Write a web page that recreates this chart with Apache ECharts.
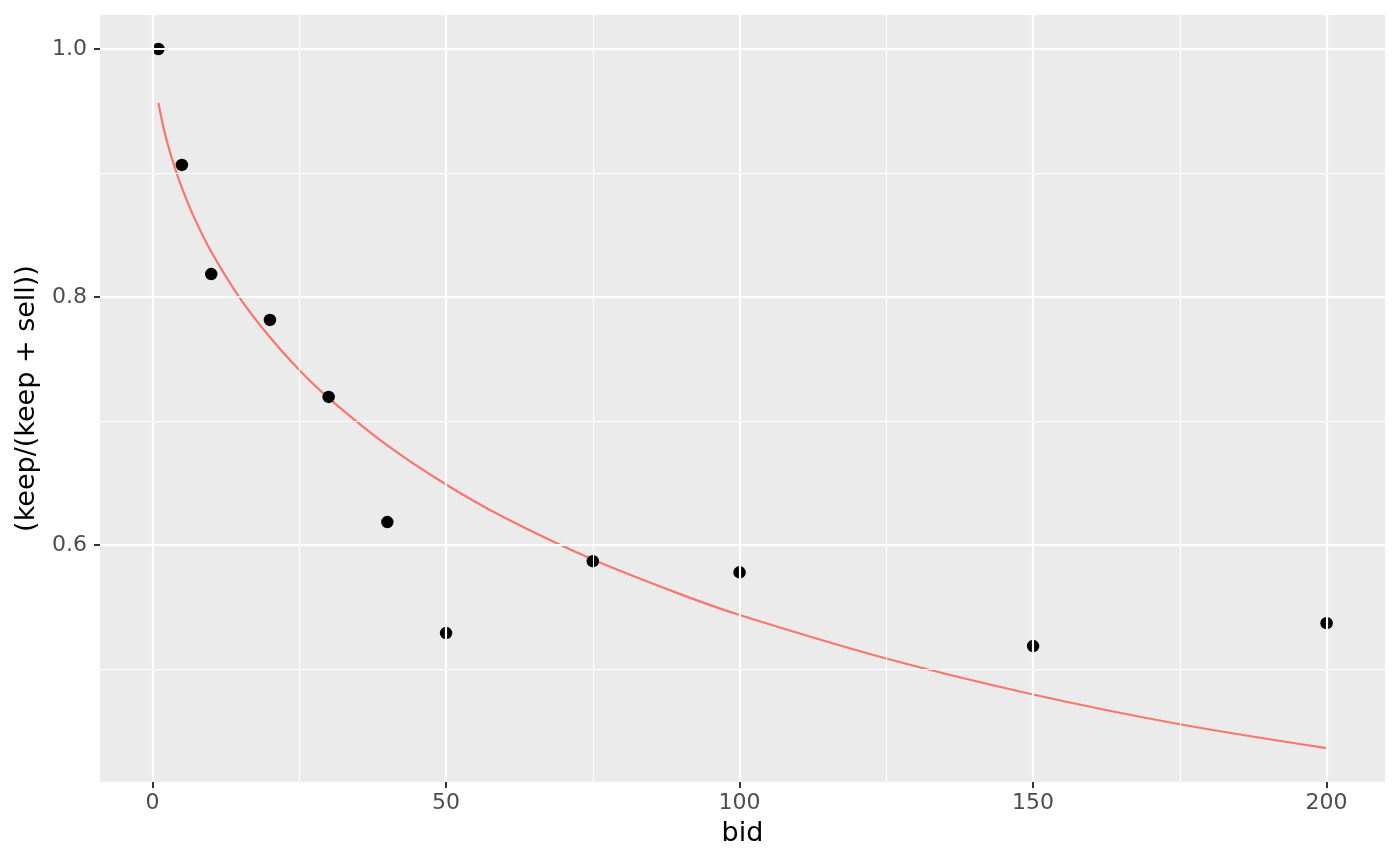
<!DOCTYPE html>
<html>
<head>
<meta charset="utf-8">
<script src="https://cdn.jsdelivr.net/npm/echarts@6/dist/echarts.min.js"></script>
<style>
html,body{margin:0;padding:0;background:#fff;}
#chart{width:1400px;height:866px;}
</style>
</head>
<body>
<div id="chart"></div>
<script>
// observed points
const bids = [1, 5, 10, 20, 30, 40, 50, 75, 100, 150, 200];
const shares = [1.0, 0.9065, 0.8185, 0.7815, 0.7194, 0.6185, 0.529, 0.587, 0.578, 0.5185, 0.537];
// fitted curve
const fitBids = [1, 2, 3, 4, 5, 7, 10, 15, 20, 25, 30, 40, 50, 60, 75, 90, 100, 125, 150, 175, 200];
const fitShares = [0.9565, 0.934, 0.9164, 0.9014, 0.888, 0.865, 0.8365, 0.7983, 0.7675, 0.7411, 0.7185, 0.6803, 0.6488, 0.622, 0.5883, 0.5602, 0.5436, 0.5085, 0.4795, 0.4555, 0.4362];
// axis ticks
const xMajor = [0, 50, 100, 150, 200];
const xMinor = [25, 75, 125, 175];
const yMajor = [0.6, 0.8, 1.0];
const yMinor = [0.5, 0.7, 0.9];
const xTitle = 'bid';
const yTitle = '(keep/(keep + sell))';

const chart = echarts.init(document.getElementById('chart'), null, {renderer: 'canvas'});
const font = 'DejaVu Sans';

const gridLines = [];
xMinor.forEach(v => gridLines.push({xAxis: v, lineStyle: {color: '#fff', width: 1.1, type: 'solid'}}));
yMinor.forEach(v => gridLines.push({yAxis: v, lineStyle: {color: '#fff', width: 1.1, type: 'solid'}}));
xMajor.forEach(v => gridLines.push({xAxis: v, lineStyle: {color: '#fff', width: 2.2, type: 'solid'}}));
yMajor.forEach(v => gridLines.push({yAxis: v, lineStyle: {color: '#fff', width: 2.2, type: 'solid'}}));

chart.setOption({
  animation: false,
  backgroundColor: '#ffffff',
  grid: {left: 100, right: 15, top: 15, bottom: 84, show: true, backgroundColor: '#EBEBEB', borderWidth: 0,
    containLabel: false, outerBoundsMode: 'none'},
  xAxis: {
    type: 'value', min: -8.95, max: 209.95,
    name: xTitle, nameLocation: 'middle', nameGap: 38,
    nameTextStyle: {fontFamily: font, fontSize: 27, color: '#000'},
    axisLine: {show: true, onZero: false, lineStyle: {color: 'rgba(0,0,0,0)'}},
    splitLine: {show: false},
    axisTick: {show: true, customValues: xMajor, length: 6, lineStyle: {color: '#333333', width: 2}},
    axisLabel: {customValues: xMajor, fontFamily: font, fontSize: 22, color: '#4D4D4D', margin: 10, showMinLabel: true, showMaxLabel: true}
  },
  yAxis: {
    type: 'value', min: 0.4089, max: 1.0274,
    name: yTitle, nameLocation: 'middle', nameGap: 60,
    nameTextStyle: {fontFamily: font, fontSize: 27, color: '#000'},
    axisLine: {show: true, onZero: false, lineStyle: {color: 'rgba(0,0,0,0)'}},
    splitLine: {show: false},
    axisTick: {show: true, customValues: yMajor, length: 6, lineStyle: {color: '#333333', width: 2}},
    axisLabel: {customValues: yMajor, fontFamily: font, fontSize: 22, color: '#4D4D4D', margin: 13,
      formatter: v => v.toFixed(1), showMinLabel: true, showMaxLabel: true}
  },
  series: [
    {
      type: 'line', data: [], silent: true, z: 1,
      markLine: {silent: true, symbol: 'none', label: {show: false}, animation: false, data: gridLines}
    },
    {
      type: 'line', z: 3,
      data: fitBids.map((b, i) => [b, fitShares[i]]),
      showSymbol: false, smooth: 0.3, symbol: 'none',
      lineStyle: {color: '#F8766D', width: 2.2}
    },
    {
      type: 'scatter', z: 4,
      data: bids.map((b, i) => [b, shares[i]]),
      symbol: 'circle', symbolSize: 12.5,
      itemStyle: {color: '#000000', opacity: 1}
    }
  ]
});
</script>
</body>
</html>
